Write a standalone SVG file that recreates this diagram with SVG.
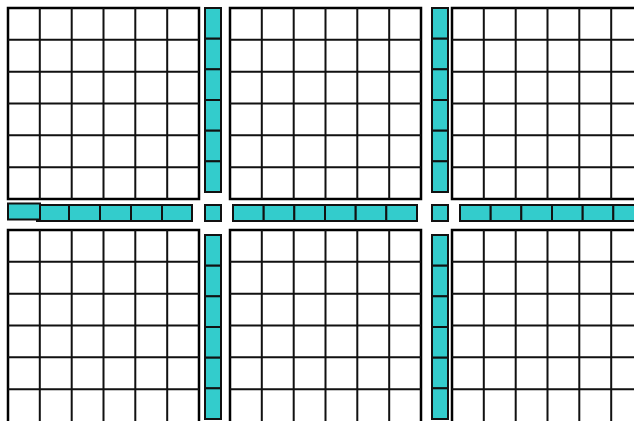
<svg xmlns="http://www.w3.org/2000/svg" width="634" height="421" viewBox="0 0 634 421">
<defs>
<style>
.g{fill:#fff;stroke:#000;stroke-width:2.5}
.l{stroke:#111;stroke-width:2;fill:none}
.c{fill:#33cccc;stroke:#111;stroke-width:2}
</style>
<g id="gridcells">
<rect class="g" x="0" y="0" width="191" height="191"/>
<path class="l" d="M31.8 0V191M63.7 0V191M95.5 0V191M127.3 0V191M159.2 0V191M0 31.8H191M0 63.7H191M0 95.5H191M0 127.3H191M0 159.2H191"/>
</g>
<g id="gridopen">
<rect fill="#fff" x="0" y="0" width="191" height="200"/>
<path class="l" style="stroke:#000;stroke-width:2.5" d="M0 200V0H191V200"/>
<path class="l" d="M31.8 0V200M63.7 0V200M95.5 0V200M127.3 0V200M159.2 0V200M0 31.8H191M0 63.7H191M0 95.5H191M0 127.3H191M0 159.2H191"/>
</g>
<g id="vbar">
<rect class="c" x="0" y="0" width="16" height="30.7"/>
<rect class="c" x="0" y="30.7" width="16" height="30.7"/>
<rect class="c" x="0" y="61.3" width="16" height="30.7"/>
<rect class="c" x="0" y="92" width="16" height="30.7"/>
<rect class="c" x="0" y="122.7" width="16" height="30.7"/>
<rect class="c" x="0" y="153.3" width="16" height="30.7"/>
</g>
<g id="hbar">
<rect class="c" x="0" y="0" width="30.7" height="16"/>
<rect class="c" x="30.7" y="0" width="30.7" height="16"/>
<rect class="c" x="61.3" y="0" width="30.7" height="16"/>
<rect class="c" x="92" y="0" width="30.7" height="16"/>
<rect class="c" x="122.7" y="0" width="30.7" height="16"/>
<rect class="c" x="153.3" y="0" width="30.7" height="16"/>
</g>
</defs>
<rect width="634" height="421" fill="#fff"/>
<g id="grid-top-left"><use href="#gridcells" x="8" y="8"/></g>
<g id="grid-top-middle"><use href="#gridcells" x="230" y="8"/></g>
<g id="grid-top-right"><use href="#gridcells" x="452" y="8"/></g>
<g id="grid-bottom-left"><use href="#gridopen" x="8" y="230"/></g>
<g id="grid-bottom-middle"><use href="#gridopen" x="230" y="230"/></g>
<g id="grid-bottom-right"><use href="#gridopen" x="452" y="230"/></g>
<g id="vbar-top-left"><use href="#vbar" x="205" y="8"/></g>
<g id="vbar-top-right"><use href="#vbar" x="432" y="8"/></g>
<g id="vbar-bottom-left"><use href="#vbar" x="205" y="235"/></g>
<g id="vbar-bottom-right"><use href="#vbar" x="432" y="235"/></g>
<g id="hbar-left">
<rect class="c" x="37" y="205" width="32" height="16"/>
<rect class="c" x="69" y="205" width="31" height="16"/>
<rect class="c" x="100" y="205" width="31" height="16"/>
<rect class="c" x="131" y="205" width="31" height="16"/>
<rect class="c" x="162" y="205" width="30" height="16"/>
<rect class="c" x="8" y="203.5" width="32" height="16"/>
</g>
<g id="hbar-middle"><use href="#hbar" x="233" y="205"/></g>
<g id="hbar-right"><use href="#hbar" x="460" y="205"/></g>
<g id="unit-left"><rect class="c" x="205" y="205" width="16" height="16"/></g>
<g id="unit-right"><rect class="c" x="432" y="205" width="16" height="16"/></g>
</svg>
